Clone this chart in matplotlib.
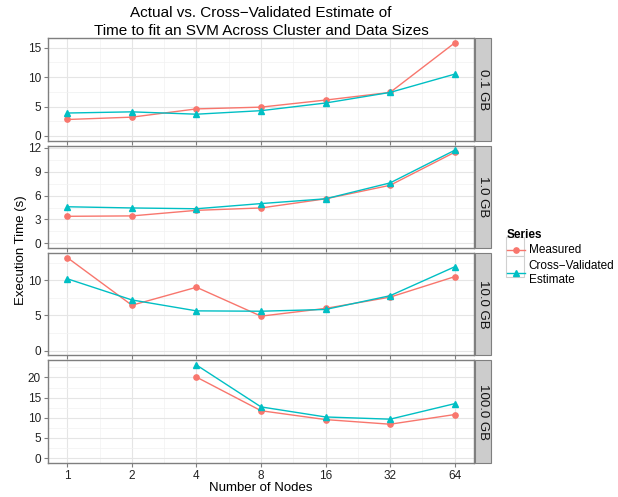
import numpy as np
import matplotlib
matplotlib.use('Agg')
import matplotlib.pyplot as plt
from matplotlib.patches import Rectangle
from matplotlib.lines import Line2D

plt.rcParams['font.family'] = ['Liberation Sans', 'DejaVu Sans']

# data
nodes = [1, 2, 4, 8, 16, 32, 64]
sizes = ['0.1 GB', '1.0 GB', '10.0 GB', '100.0 GB']

measured_01 = [2.8, 3.2, 4.6, 4.9, 6.1, 7.4, 15.8]
estimate_01 = [3.9, 4.1, 3.7, 4.3, 5.6, 7.4, 10.5]

measured_1 = [3.4, 3.45, 4.15, 4.45, 5.6, 7.3, 11.45]
estimate_1 = [4.6, 4.45, 4.35, 5.0, 5.6, 7.6, 11.7]

measured_10 = [13.2, 6.45, 9.0, 4.9, 6.0, 7.6, 10.5]
estimate_10 = [10.2, 7.2, 5.65, 5.6, 5.85, 7.8, 11.9]

nodes_100 = [4, 8, 16, 32, 64]
measured_100 = [20.1, 11.75, 9.55, 8.4, 10.8]
estimate_100 = [23.1, 12.7, 10.2, 9.65, 13.5]

yticks = [[0, 5, 10, 15], [0, 3, 6, 9, 12], [0, 5, 10], [0, 5, 10, 15, 20]]

panels = [
    (nodes, measured_01, estimate_01),
    (nodes, measured_1, estimate_1),
    (nodes, measured_10, estimate_10),
    (nodes_100, measured_100, estimate_100),
]

red = '#F8766D'
teal = '#00BFC4'
border = '#7F7F7F'
W, H = 618, 497

fig = plt.figure(figsize=(6.18, 4.97), dpi=100)
gs = fig.add_gridspec(4, 1, left=48/W, right=474/W, top=1-38.3/H,
                      bottom=1-462.7/H, hspace=0.049)

for i, (xs, meas, est) in enumerate(panels):
    ax = fig.add_subplot(gs[i])
    lx = np.log2(xs)
    ax.plot(lx, meas, color=red, marker='o', ms=3.8, lw=1.0, zorder=3)
    ax.plot(lx, est, color=teal, marker='^', ms=4.3, lw=1.0, zorder=3)

    hi = max(max(meas), max(est))
    ax.set_ylim(-0.05 * hi, hi * 1.05)
    ax.set_xlim(-0.3, 6.3)
    t = yticks[i]
    ax.set_yticks(t)
    step = t[1] - t[0]
    ax.set_yticks([v + step / 2 for v in t if v + step / 2 < hi * 1.05], minor=True)
    ax.set_xticks(range(7))
    ax.set_xticks(np.arange(0.5, 6, 1), minor=True)
    ax.grid(which='major', color='#E5E5E5', lw=0.8, zorder=0)
    ax.grid(which='minor', color='#F2F2F2', lw=0.5, zorder=0)
    ax.set_axisbelow(True)
    for s in ax.spines.values():
        s.set_color(border)
        s.set_linewidth(1.0)
    ax.tick_params(which='major', length=3, width=0.8, color=border,
                   labelsize=8.5, labelcolor='#222222', pad=2)
    ax.tick_params(which='minor', length=0)
    if i < 3:
        ax.tick_params(axis='x', labelbottom=False)
    else:
        ax.set_xticklabels([str(n) for n in nodes])

    # facet strip
    w = 16 / 426
    ax.add_patch(Rectangle((1.002, 0), w, 1, transform=ax.transAxes,
                           facecolor='#CCCCCC', edgecolor=border, lw=0.8,
                           clip_on=False))
    ax.text(1.002 + w / 2, 0.5, sizes[i], transform=ax.transAxes,
            rotation=-90, ha='center', va='center', fontsize=9.5,
            color='#111111')

fig.text(261/W, 1 - 488/H, 'Number of Nodes', ha='center', va='center',
         fontsize=9.5)
fig.text(21/W, 1 - 250/H, 'Execution Time (s)', rotation=90,
         ha='center', va='center', fontsize=9.5)
fig.text(261/W, 1 - 22/H,
         'Actual vs. Cross\u2212Validated Estimate of\n'
         'Time to fit an SVM Across Cluster and Data Sizes',
         ha='center', va='center', fontsize=11, linespacing=1.3)

# legend key boxes
for y0, y1 in [(237.3, 256), (256, 276.7)]:
    fig.patches.append(Rectangle((506/W, 1 - y1/H), 18.3/W, (y1 - y0)/H,
                                 transform=fig.transFigure, facecolor='white',
                                 edgecolor='#D0D0D0', lw=0.8, zorder=0))

handles = [Line2D([], [], color=red, marker='o', ms=3.8, lw=1.0),
           Line2D([], [], color=teal, marker='^', ms=4.3, lw=1.0)]
leg = fig.legend(handles, ['Measured', 'Cross\u2212Validated\nEstimate'],
                 loc='upper left', bbox_to_anchor=(502/W, 1 - 224/H),
                 frameon=False, title='Series', fontsize=8.5,
                 handlelength=1.55, handletextpad=0.3, labelspacing=0.3,
                 borderaxespad=0)
leg.get_title().set_fontweight('bold')
leg.get_title().set_fontsize(8.5)
leg._legend_box.align = 'left'
# centre keys vertically on multi-line labels, like ggplot
for col in leg._legend_handle_box.get_children():
    for row in col.get_children():
        row.align = 'center'

fig.savefig('out.png', dpi=100)
